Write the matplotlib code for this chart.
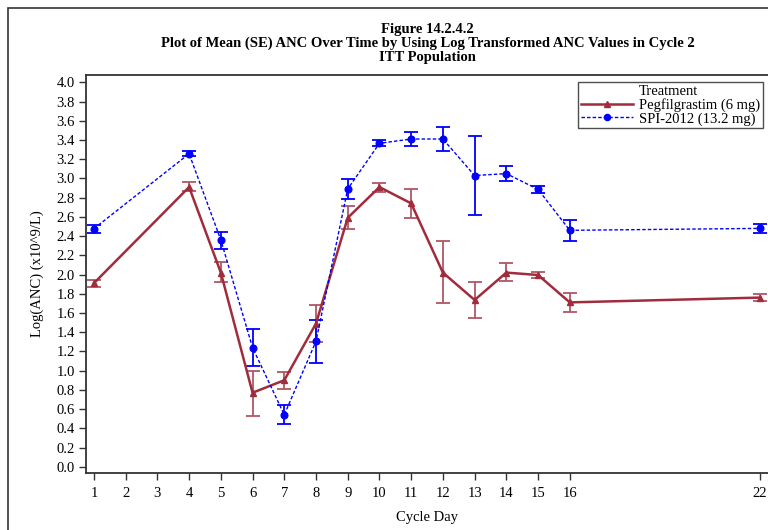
import matplotlib
matplotlib.use("Agg")
import matplotlib.pyplot as plt
from matplotlib.patches import Rectangle
from matplotlib.lines import Line2D

days = [1, 4, 5, 6, 7, 8, 9, 10, 11, 12, 13, 14, 15, 16, 22]
tick_days = [1, 2, 3, 4, 5, 6, 7, 8, 9, 10, 11, 12, 13, 14, 15, 16, 22]

peg_mean = [1.91, 2.91, 2.02, 0.77, 0.90, 1.49, 2.59, 2.91, 2.74, 2.02, 1.735, 2.02, 1.995, 1.71, 1.76]
peg_lo = [1.87, 2.87, 1.92, 0.53, 0.81, 1.30, 2.47, 2.86, 2.59, 1.70, 1.55, 1.93, 1.96, 1.61, 1.72]
peg_hi = [1.94, 2.96, 2.13, 1.00, 0.99, 1.68, 2.71, 2.955, 2.89, 2.35, 1.92, 2.12, 2.03, 1.81, 1.80]

spi_mean = [2.477, 3.257, 2.36, 1.24, 0.54, 1.305, 2.89, 3.365, 3.41, 3.41, 3.03, 3.05, 2.886, 2.46, 2.48]
spi_lo = [2.43, 3.23, 2.27, 1.05, 0.44, 1.076, 2.79, 3.34, 3.34, 3.29, 2.62, 2.97, 2.85, 2.345, 2.435]
spi_hi = [2.52, 3.29, 2.445, 1.43, 0.64, 1.53, 2.99, 3.40, 3.48, 3.53, 3.44, 3.13, 2.92, 2.57, 2.53]

yticks = [round(0.2 * i, 1) for i in range(21)]

plt.rcParams['font.family'] = ['Liberation Serif', 'DejaVu Serif']

W, H = 768, 530
fig = plt.figure(figsize=(W / 100, H / 100), dpi=100)
ax_top, ax_bot = 75, 472.7
ax = fig.add_axes([86 / W, 1 - ax_bot / H, (769 - 86) / W, (ax_bot - ax_top) / H])

red = '#A02C3C'
red_err = '#B05666'
blue = '#0000FF'

peg_err = [[m - l for m, l in zip(peg_mean, peg_lo)], [h - m for m, h in zip(peg_mean, peg_hi)]]
spi_err = [[m - l for m, l in zip(spi_mean, spi_lo)], [h - m for m, h in zip(spi_mean, spi_hi)]]

ax.errorbar(days, peg_mean, yerr=peg_err, fmt='none', ecolor=red_err, elinewidth=1.3,
            capsize=5, capthick=1.3, zorder=2)
ax.errorbar(days, spi_mean, yerr=spi_err, fmt='none', ecolor=blue, elinewidth=1.3,
            capsize=5, capthick=1.3, zorder=2)
ax.plot(days, peg_mean, color=red, linewidth=1.8, marker='^', markersize=4.6, zorder=3)
ax.plot(days, spi_mean, color=blue, linewidth=1.0, linestyle=(0, (2.5, 1.5)), marker='o',
        markersize=4.8, zorder=3)

ax.set_xlim(0.75, 22.28)
ax.set_ylim(-0.062, 4.076)
ax.set_xticks(tick_days)
ax.set_xticklabels([str(d) for d in tick_days])
ax.set_yticks(yticks)
ax.set_yticklabels([f'{v:.1f}' for v in yticks])
ax.tick_params(axis='both', labelsize=10.5, length=5, width=1, color='#333333')
ax.tick_params(axis='x', pad=5)
ax.tick_params(axis='y', pad=3)
for s in ax.spines.values():
    s.set_linewidth(1.3)
    s.set_color('#333333')
ax.spines['right'].set_visible(False)

ax.set_xlabel('Cycle Day', fontsize=10.5, labelpad=8)
ax.set_ylabel('Log(ANC) (x10^9/L)', fontsize=10.5, labelpad=9)

handles = [
    Line2D([], [], linestyle='none'),
    Line2D([], [], color=red, linewidth=1.8, marker='^', markersize=4.2),
    Line2D([], [], color=blue, linewidth=1.0, linestyle=(0, (2.5, 1.5)), marker='o', markersize=4.4),
]
labels = ['Treatment', 'Pegfilgrastim (6 mg)', 'SPI-2012 (13.2 mg)']
leg = ax.legend(handles, labels, loc='upper right',
                bbox_to_anchor=((763 - 86) / (769 - 86), 1 - (82 - ax_top) / (ax_bot - ax_top)),
                fontsize=10.5, frameon=True, fancybox=False,
                edgecolor='#222222', borderpad=0.2, labelspacing=0.0, handlelength=3.6,
                handletextpad=0.4, borderaxespad=0)
leg.get_frame().set_linewidth(1.0)

cx = 0.5 * (86 + 769) / W
fig.text(cx, 1 - 29 / H, 'Figure 14.2.4.2', ha='center', va='center',
         fontsize=10.5, fontweight='bold')
fig.text(cx, 1 - 43 / H,
         'Plot of Mean (SE) ANC Over Time by Using Log Transformed ANC Values in Cycle 2',
         ha='center', va='center', fontsize=10.5, fontweight='bold')
fig.text(cx, 1 - 57 / H, 'ITT Population', ha='center', va='center',
         fontsize=10.5, fontweight='bold')

fig.patches.append(Rectangle((8 / W, -0.01), 1.0, 1 - 8 / H + 0.01, transform=fig.transFigure,
                             fill=False, edgecolor='#333333', linewidth=1.2))

fig.savefig('out.png', dpi=100)
